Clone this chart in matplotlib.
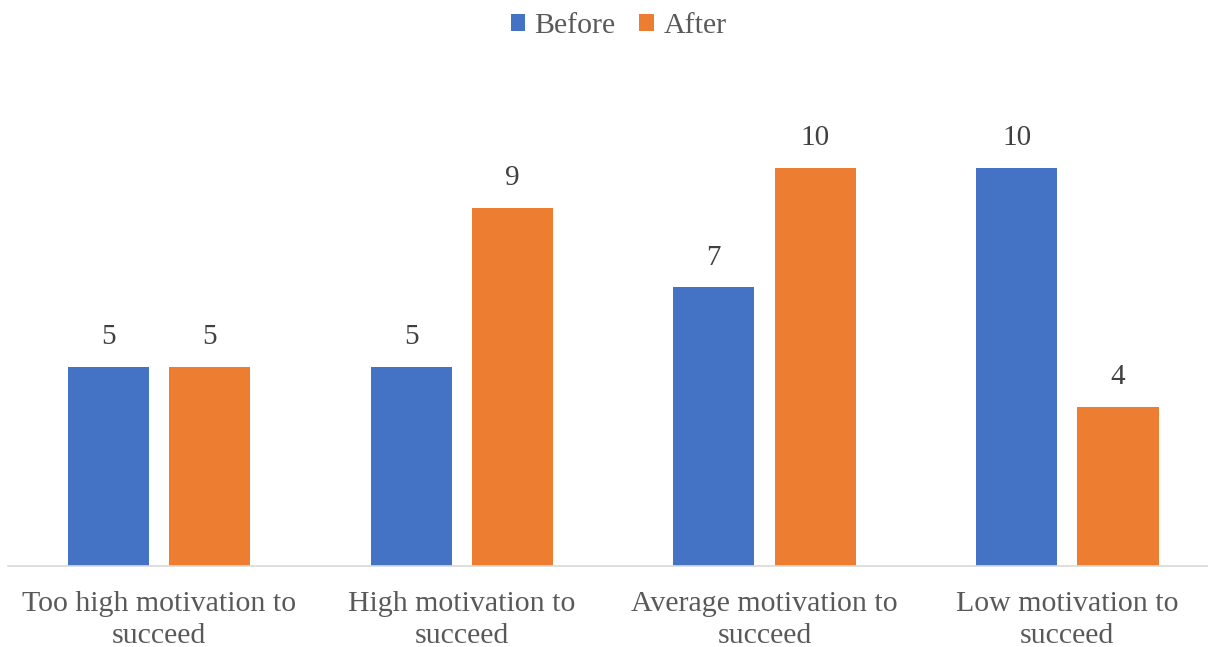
import matplotlib.pyplot as plt
import numpy as np

categories = ['Too high motivation to\nsucceed', 'High motivation to\nsucceed',
              'Average motivation to\nsucceed', 'Low motivation to\nsucceed']
before = [5, 5, 7, 10]
after = [5, 9, 10, 4]

plt.rcParams['font.family'] = ['Liberation Serif', 'DejaVu Serif']

fig = plt.figure(figsize=(12.08, 6.47), dpi=100)
ax = fig.add_axes([7.7 / 1208, 1 - 566 / 647, 1211 / 1208, 12 * 39.8 / 647])

x = np.arange(len(categories))
w = 0.268
off = 0.1675
b1 = ax.bar(x - off, before, w, color='#4472c4', label='Before')
b2 = ax.bar(x + off, after, w, color='#ed7d31', label='After')

for bars in (b1, b2):
    ax.bar_label(bars, padding=12, fontsize=21, color='#404040')

ax.set_xlim(-0.5, 3.5)
ax.set_ylim(0, 12)
ax.set_yticks([])
ax.set_xticks(x)
ax.set_xticklabels(categories, fontsize=21.5, color='#595959', linespacing=1.3)
ax.tick_params(axis='x', length=0, pad=18)
for s in ['top', 'right', 'left']:
    ax.spines[s].set_visible(False)
ax.spines['bottom'].set_color('#d9d9d9')
ax.spines['bottom'].set_linewidth(1.2)

fig.legend(loc='upper center', bbox_to_anchor=(0.512, 1.022), ncol=2, frameon=False,
           fontsize=21.5, labelcolor='#595959', handlelength=0.5, handleheight=0.5,
           handletextpad=0.3, columnspacing=0.8)

fig.savefig('out.png', dpi=100)
